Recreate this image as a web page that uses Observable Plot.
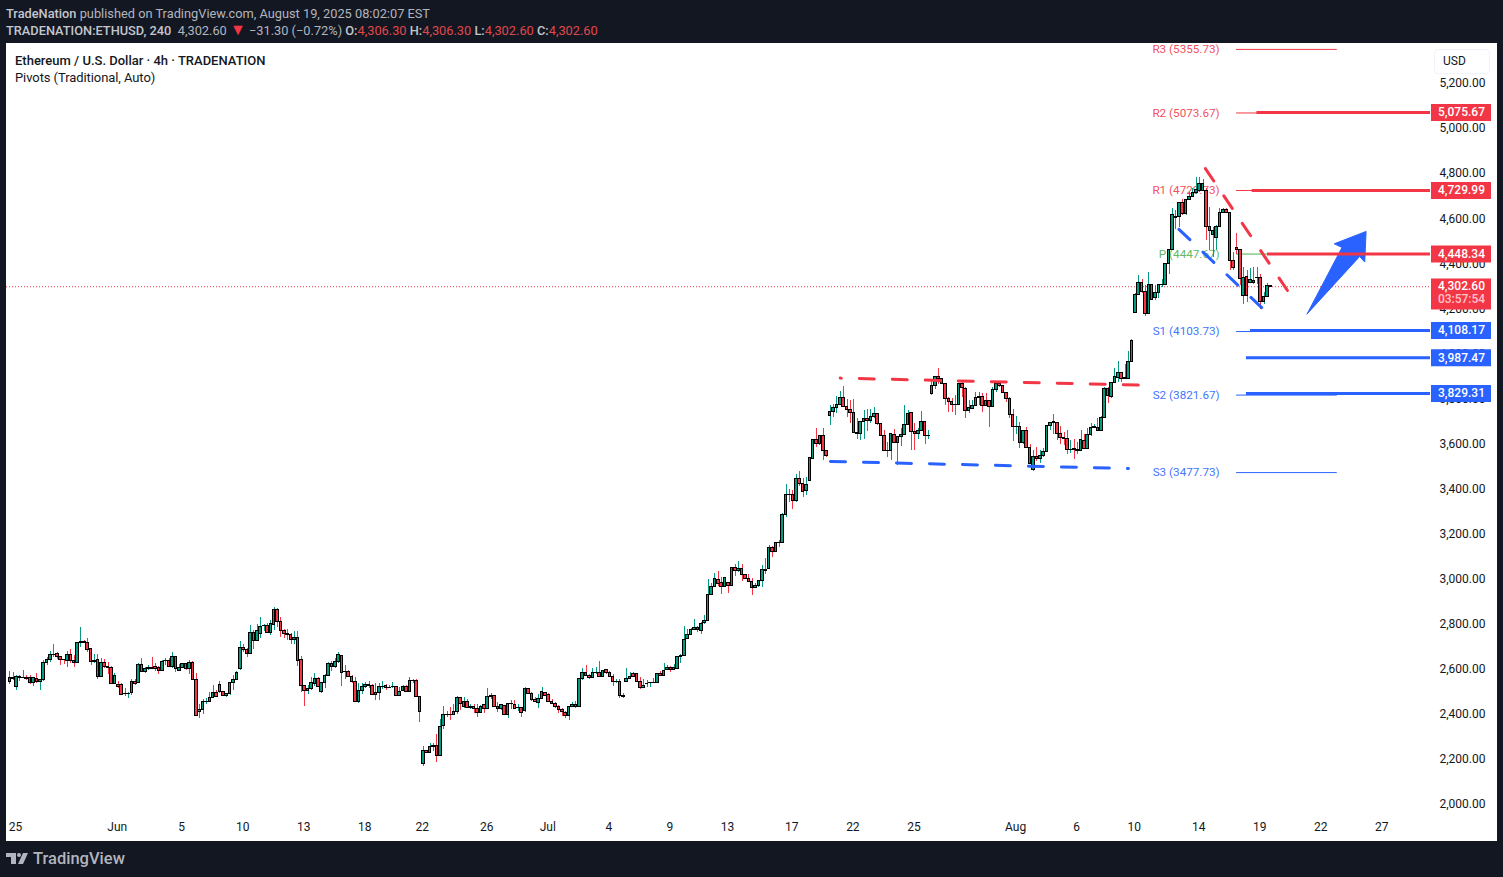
<!DOCTYPE html>
<html>
<head>
<meta charset="utf-8">
<script src="https://cdn.jsdelivr.net/npm/d3@7"></script>
<script src="https://cdn.jsdelivr.net/npm/@observablehq/plot@0.6"></script>
<style>
  html, body { margin: 0; height: 877px; overflow: hidden; background: #131722; font-family: Roboto, sans-serif; }
  #head { position: absolute; left: 6px; top: 5px; font-size: 12.8px; line-height: 17px; color: #b2b5be; white-space: pre; }
  #head b { font-weight: 500; color: #c3c6ce; }
  #head .dn { color: #e0474c; }
  #head .arrow { color: #f23645; font-size: 16px; line-height: 0; }
  #chart { position: absolute; left: 6px; top: 43px; width: 1491px; height: 798px; background: #fff; }
  #title { position: absolute; left: 15px; top: 52px; font-size: 13px; line-height: 17px; color: #131722; }
  #title b { font-weight: 500; }
  #title span { letter-spacing: -0.08px; }
  #usd { position: absolute; left: 1434px; top: 49px; width: 56px; height: 25px; box-sizing: border-box; border: 1px solid #f0f3fa; border-radius: 4px; font-size: 12px; line-height: 23px; padding-left: 8px; background: #fff; color: #131722; }
  #logo { position: absolute; left: 6px; top: 847px; height: 22px; display: flex; align-items: center; color: #b2b5be; font-size: 16.5px; font-weight: 500; }
  #logo svg { margin-right: 5px; }
</style>
</head>
<body>
<div id="head"><b>TradeNation</b> published on TradingView.com, August 19, 2025 08:02:07 EST
<b>TRADENATION:ETHUSD, 240</b>  4,302.60 <span class="arrow">▼</span> −31.30 (−0.72%) <b>O:</b><span class="dn">4,306.30</span> <b>H:</b><span class="dn">4,306.30</span> <b>L:</b><span class="dn">4,302.60</span> <b>C:</b><span class="dn">4,302.60</span></div>
<div id="chart"></div>
<div id="title"><b>Ethereum / U.S. Dollar · 4h · TRADENATION</b><br><span>Pivots (Traditional, Auto)</span></div>
<div id="usd">USD</div>
<div id="logo"><svg width="22" height="11" viewBox="0 0 22 11" fill="#b2b5be"><path d="M0 0h10v11H5V4H0z"/><circle cx="13" cy="2" r="2"/><path d="M17 0h5l-5 11h-5z"/></svg>TradingView</div>
<script>
const opens = [
  2541,2560,2518,2564,2558,2560,2560,2536,2554,2541,
  2550,2626,2640,2663,2666,2652,2640,2634,2662,2635,
  2625,2715,2718,2715,2689,2632,2640,2563,2626,2607,
  2603,2533,2530,2529,2487,2487,2492,2542,2536,2618,
  2585,2601,2603,2609,2606,2589,2634,2635,2607,2653,
  2589,2604,2622,2600,2626,2551,2408,2418,2453,2453,
  2471,2493,2529,2496,2478,2487,2538,2551,2598,2693,
  2684,2666,2760,2723,2755,2791,2791,2760,2795,2862,
  2808,2767,2755,2751,2728,2737,2638,2524,2502,2510,
  2533,2555,2496,2538,2569,2622,2607,2629,2657,2586,
  2588,2564,2542,2452,2504,2518,2529,2524,2483,2493,
  2520,2524,2515,2518,2520,2479,2501,2520,2496,2548,
  2547,2476,2178,2236,2226,2255,2257,2212,2345,2394,
  2397,2395,2407,2472,2429,2453,2427,2431,2422,2404,
  2440,2422,2477,2480,2432,2422,2437,2394,2444,2440,
  2425,2425,2412,2509,2489,2464,2450,2466,2492,2484,
  2453,2444,2431,2418,2404,2391,2431,2440,2431,2555,
  2582,2569,2560,2580,2582,2564,2594,2582,2564,2540,
  2542,2480,2542,2555,2577,2577,2542,2514,2532,2536,
  2536,2537,2576,2568,2595,2604,2595,2601,2653,2656,
  2734,2749,2773,2780,2767,2802,2814,2928,2963,2994,
  2981,2963,2981,2968,3048,3033,3043,3017,2999,2986,
  2957,2966,2989,3039,3043,3136,3118,3159,3159,3283,
  3372,3372,3344,3443,3421,3388,3435,3532,3617,3598,
  3632,3567,3721,3739,3758,3773,3802,3762,3749,3736,
  3647,3643,3696,3709,3700,3718,3731,3685,3634,3567,
  3566,3637,3603,3629,3638,3682,3734,3650,3641,3656,
  3696,3632,3818,3857,3895,3887,3864,3798,3783,3773,
  3773,3864,3842,3745,3752,3767,3802,3805,3787,3789,
  3761,3838,3864,3855,3824,3798,3727,3672,3674,3601,
  3657,3580,3483,3539,3532,3545,3563,3677,3694,3691,
  3642,3625,3620,3571,3576,3572,3567,3611,3576,3637,
  3671,3671,3656,3713,3842,3805,3870,3891,3913,3889,
  3887,3962,4179,4259,4313,4274,4175,4304,4245,4267,
  4302,4304,4395,4459,4601,4604,4668,4619,4681,4693,
  4710,4719,4719,4719,4560,4527,4511,4560,4623,4636,
  4623,4409,4468,4459,4256,4338,4314,4323,4333,4335,
  4227,4252,4306.3
];
const closes = [
  2560,2555,2564,2560,2560,2554,2536,2560,2541,2551,
  2626,2640,2662,2662,2652,2640,2638,2662,2634,2625,
  2715,2718,2715,2683,2629,2637,2563,2626,2607,2603,
  2533,2569,2518,2483,2489,2489,2542,2532,2618,2585,
  2600,2603,2600,2600,2589,2632,2635,2607,2653,2600,
  2604,2622,2600,2626,2551,2391,2418,2453,2455,2471,
  2493,2474,2496,2480,2487,2538,2551,2584,2693,2684,
  2666,2760,2723,2767,2786,2792,2760,2799,2862,2808,
  2767,2755,2751,2728,2737,2635,2524,2502,2511,2538,
  2555,2518,2538,2569,2622,2607,2631,2662,2581,2588,
  2563,2541,2452,2502,2520,2529,2526,2484,2493,2520,
  2521,2514,2517,2520,2479,2498,2520,2496,2547,2547,
  2474,2409,2236,2226,2254,2257,2212,2341,2394,2396,
  2395,2409,2472,2444,2453,2427,2431,2422,2404,2431,
  2422,2477,2480,2431,2422,2440,2394,2444,2443,2422,
  2427,2404,2511,2489,2462,2453,2466,2498,2481,2452,
  2444,2431,2416,2407,2391,2431,2440,2431,2555,2582,
  2570,2560,2582,2582,2564,2589,2582,2564,2542,2542,
  2478,2475,2555,2566,2566,2542,2514,2524,2533,2537,
  2537,2576,2568,2591,2604,2595,2604,2653,2656,2728,
  2749,2773,2780,2771,2799,2814,2928,2963,3000,2977,
  2963,3003,2968,3048,3034,3043,3015,2999,2986,2959,
  2966,2990,3039,3033,3136,3118,3159,3160,3283,3372,
  3373,3344,3443,3421,3384,3416,3536,3617,3598,3632,
  3569,3543,3739,3758,3773,3802,3761,3749,3736,3647,
  3643,3696,3709,3700,3718,3731,3685,3634,3567,3566,
  3642,3603,3629,3638,3682,3731,3650,3641,3656,3696,
  3634,3634,3857,3895,3887,3864,3798,3783,3773,3771,
  3864,3847,3745,3758,3767,3801,3805,3767,3767,3761,
  3838,3864,3855,3826,3798,3727,3672,3674,3601,3657,
  3580,3509,3539,3532,3545,3563,3680,3691,3691,3642,
  3625,3620,3572,3573,3572,3567,3616,3576,3638,3669,
  3672,3656,3713,3842,3810,3870,3895,3913,3888,3885,
  3962,4055,4259,4313,4271,4175,4304,4237,4267,4304,
  4305,4397,4459,4614,4604,4668,4619,4681,4693,4710,
  4725,4752,4752,4560,4542,4542,4562,4623,4636,4623,
  4409,4378,4459,4330,4335,4256,4327,4311,4335,4227,
  4252,4299,4302.6
];
const highs = [
  2589,2585,2570,2570,2592,2570,2570,2560,2578,2551,
  2637,2652,2677,2708,2674,2652,2640,2677,2684,2659,
  2718,2782,2728,2737,2689,2666,2662,2644,2640,2629,
  2610,2578,2544,2533,2511,2496,2551,2551,2625,2644,
  2607,2615,2652,2622,2612,2637,2644,2644,2674,2655,
  2619,2625,2626,2637,2632,2578,2442,2462,2467,2496,
  2526,2504,2544,2501,2489,2541,2570,2589,2721,2708,
  2691,2792,2770,2799,2826,2799,2802,2814,2873,2870,
  2826,2777,2777,2755,2765,2765,2655,2524,2526,2560,
  2578,2563,2541,2575,2629,2634,2644,2674,2659,2615,
  2592,2570,2560,2536,2533,2541,2544,2530,2533,2533,
  2544,2530,2526,2539,2521,2518,2526,2526,2560,2551,
  2552,2477,2255,2240,2267,2267,2307,2374,2433,2410,
  2427,2441,2477,2474,2474,2462,2444,2444,2441,2437,
  2444,2515,2489,2481,2452,2444,2437,2447,2459,2459,
  2444,2429,2518,2511,2496,2474,2486,2517,2495,2489,
  2462,2452,2437,2425,2412,2434,2449,2455,2555,2600,
  2613,2577,2600,2607,2631,2592,2595,2588,2573,2551,
  2551,2489,2601,2585,2582,2580,2563,2552,2548,2537,
  2557,2580,2589,2623,2614,2610,2619,2654,2666,2787,
  2777,2781,2818,2787,2807,2836,2997,2977,3024,3031,
  3006,3006,2981,3051,3063,3077,3063,3021,3018,3002,
  2977,2992,3058,3091,3147,3143,3162,3172,3288,3418,
  3396,3391,3462,3476,3443,3450,3536,3620,3669,3632,
  3665,3569,3768,3773,3808,3830,3852,3795,3790,3795,
  3709,3699,3746,3753,3753,3758,3731,3687,3657,3606,
  3645,3662,3631,3669,3768,3746,3736,3687,3665,3742,
  3699,3657,3879,3897,3932,3889,3867,3805,3798,3813,
  3867,3879,3847,3793,3790,3827,3827,3820,3820,3790,
  3847,3872,3872,3857,3827,3805,3749,3719,3694,3660,
  3672,3598,3569,3583,3569,3576,3682,3694,3731,3694,
  3675,3650,3657,3613,3620,3606,3657,3640,3665,3687,
  3684,3709,3719,3847,3850,3872,3935,3963,3916,3953,
  4008,4061,4264,4345,4330,4301,4360,4308,4301,4308,
  4330,4400,4463,4641,4633,4670,4685,4685,4715,4730,
  4781,4781,4774,4730,4648,4557,4567,4645,4641,4641,
  4626,4449,4530,4462,4382,4367,4375,4382,4382,4352,
  4271,4311,4306.3
];
const lows = [
  2530,2548,2504,2544,2557,2548,2530,2521,2536,2504,
  2544,2615,2629,2652,2640,2615,2619,2607,2622,2607,
  2622,2696,2711,2674,2615,2622,2554,2560,2600,2575,
  2530,2530,2515,2481,2477,2470,2481,2526,2533,2585,
  2581,2595,2600,2589,2575,2588,2615,2604,2603,2585,
  2589,2600,2592,2575,2548,2391,2381,2397,2442,2450,
  2467,2471,2493,2477,2474,2484,2504,2548,2595,2674,
  2652,2663,2686,2723,2733,2767,2758,2748,2770,2782,
  2740,2733,2725,2708,2708,2612,2495,2434,2486,2504,
  2521,2518,2492,2511,2566,2589,2600,2626,2521,2555,
  2560,2533,2452,2445,2486,2515,2511,2483,2459,2459,
  2507,2504,2511,2511,2477,2477,2499,2495,2495,2536,
  2473,2362,2168,2223,2223,2234,2184,2211,2329,2385,
  2370,2392,2397,2415,2426,2425,2422,2403,2385,2403,
  2403,2422,2466,2429,2407,2415,2392,2381,2422,2419,
  2412,2385,2407,2486,2456,2449,2425,2464,2477,2449,
  2441,2426,2400,2390,2381,2370,2429,2425,2429,2548,
  2566,2554,2558,2577,2563,2563,2577,2560,2523,2536,
  2469,2469,2539,2551,2563,2540,2508,2512,2518,2517,
  2533,2536,2567,2567,2594,2583,2594,2601,2622,2654,
  2733,2748,2770,2762,2752,2799,2814,2925,2962,2966,
  2929,2962,2934,2966,3011,3026,2989,2996,2984,2925,
  2955,2962,2962,3021,3040,3093,3116,3140,3158,3273,
  3340,3307,3338,3409,3362,3369,3432,3529,3583,3591,
  3527,3539,3680,3714,3734,3768,3758,3716,3687,3645,
  3617,3613,3620,3653,3687,3713,3682,3632,3566,3539,
  3524,3601,3502,3586,3635,3680,3569,3569,3620,3653,
  3595,3617,3813,3838,3864,3861,3768,3739,3739,3724,
  3768,3805,3712,3734,3749,3764,3768,3739,3764,3672,
  3758,3827,3850,3823,3783,3713,3610,3642,3580,3598,
  3580,3506,3477,3521,3512,3539,3561,3657,3642,3613,
  3595,3591,3551,3554,3529,3551,3566,3574,3574,3631,
  3665,3653,3653,3712,3776,3798,3867,3872,3872,3884,
  3884,3959,4178,4256,4264,4165,4172,4234,4234,4242,
  4293,4301,4352,4456,4552,4560,4611,4614,4678,4690,
  4707,4715,4719,4500,4456,4426,4456,4557,4619,4619,
  4367,4367,4441,4301,4219,4227,4311,4308,4308,4193,
  4219,4249,4302.6
];
// candles above were read against the tick text, which sits about 1.5px over the true grid
const readShift = 6.6;

const yTicks = [2000,2200,2400,2600,2800,3000,3200,3400,3600,3800,4000,4200,4400,4600,4800,5000,5200];
const tickBars = [3,33,52,70,88,106,123,142,160,178,196,213,232,250,268,298,316,333,352,370,388,406];
const tickLabels = ["25","Jun","5","10","13","18","22","26","Jul","4","9","13","17","22","25","Aug","6","10","14","19","22","27"];

const pivotNames = ["R3","R2","R1","P","S1","S2","S3"];
const pivotValues = [5355.73,5073.67,4729.73,4447.67,4103.73,3821.67,3477.73];

const levelValues = [5075.67,4729.99,4448.34,4108.17,3987.47,3829.31];
const levelStartBars = [368.9,367.5,372,367,365.8,365.8];

const lastPrice = 4302.6;

const flatTopBars = [246,333.9], flatTopPrices = [3897,3866];
const flatBottomBars = [243.1,331], flatBottomPrices = [3527,3496];
const wedgeTopBars = [353.7,377.9], wedgeTopPrices = [4827,4286];
const wedgeBottomBars = [345.9,370.3], wedgeBottomPrices = [4557,4210];

const arrowBars = [383.7,394,391.7,401.1,400.7,399.2,383.7];
const arrowPrices = [4182,4477,4493,4548,4412,4437,4182];

const RED = "#f23645", GREEN = "#089981", BLUE = "#2962ff", PIVOT_GREEN = "#4caf50";

const bars = opens.map((o, i) => {
  const s = i < opens.length - 1 ? readShift : 0;
  return { n: i + 1, open: o + s, close: closes[i] + s, high: highs[i] + s, low: lows[i] + s };
});
const pivots = pivotNames.map((name, i) => ({ name, value: pivotValues[i] }));
const levels = levelValues.map((value, i) => ({ value, start: levelStartBars[i] }));
const toPoints = (xs, ys) => xs.map((x, i) => ({ x, y: ys[i] }));
const pivotColor = d => d.name[0] === "R" ? RED : d.name[0] === "P" ? PIVOT_GREEN : BLUE;
const levelColor = d => d.value > lastPrice ? RED : BLUE;
const money = d3.format(",.2f");

const dashed = (xs, ys, stroke, offset) => Plot.line(toPoints(xs, ys), {
  x: "x", y: "y", stroke, strokeWidth: 3, strokeDasharray: "15 18", strokeDashoffset: offset
});

const chart = Plot.plot({
  width: 1491,
  height: 798,
  marginLeft: 0,
  marginTop: 0,
  marginRight: 67,
  marginBottom: 26,
  style: { background: "#fff", fontFamily: "Roboto, sans-serif", fontSize: "12px", color: "#131722", overflow: "visible" },
  x: { domain: [0.03, 420.1], label: null },
  y: { domain: [1956, 5382], label: null },
  marks: [
    Plot.axisY(yTicks, { anchor: "right", tickSize: 0, tickPadding: 9, dy: -1, tickFormat: money, fontSize: 12, label: null }),
    Plot.axisX(tickBars, { anchor: "bottom", tickSize: 0, tickPadding: 7, dx: -1, tickFormat: d => tickLabels[tickBars.indexOf(d)], fontSize: 12, label: null }),

    // pivots sit under the candles
    Plot.ruleY(pivots, { y: "value", x1: 362.9, x2: 392.6, stroke: pivotColor, strokeWidth: 1 }),
    Plot.text(pivots, { x: 357.9, y: "value", text: d => `${d.name} (${d.value.toFixed(2)})`, textAnchor: "end", fill: pivotColor, fillOpacity: 0.9, fontSize: 11.7 }),
    Plot.ruleY([lastPrice], { stroke: RED, strokeWidth: 1, strokeDasharray: "1 2" }),

    // candles
    Plot.ruleX(bars, { x: "n", y1: "low", y2: "high", stroke: d => d.close >= d.open ? GREEN : RED, strokeWidth: 1, shapeRendering: "crispEdges" }),
    Plot.rectY(bars, {
      x1: d => d.n - 0.38, x2: d => d.n + 0.38, y1: "open", y2: "close",
      fill: d => d.close >= d.open ? GREEN : RED, stroke: "#000", strokeWidth: 1, shapeRendering: "crispEdges"
    }),

    // drawings
    dashed(flatTopBars, flatTopPrices, RED, 14),
    dashed(flatBottomBars, flatBottomPrices, BLUE, 0),
    dashed(wedgeTopBars, wedgeTopPrices, RED, 0),
    dashed(wedgeBottomBars, wedgeBottomPrices, BLUE, 0),
    Plot.line(toPoints(arrowBars, arrowPrices), { x: "x", y: "y", fill: BLUE, stroke: BLUE, strokeWidth: 1 }),
    Plot.ruleY(levels, { y: "value", x1: "start", x2: 420.1, stroke: levelColor, strokeWidth: 3 }),

    // price scale labels
    Plot.ruleY(levels, { y: "value", stroke: levelColor, strokeWidth: 17, insetLeft: 1425, insetRight: -61 }),
    Plot.ruleY([4270], { stroke: RED, strokeWidth: 31, insetLeft: 1425, insetRight: -61 }),
    Plot.text(levels, { y: "value", text: d => money(d.value), frameAnchor: "right", textAnchor: "middle", dx: 31, fill: "#fff", fontSize: 12, fontWeight: 500 }),
    Plot.text([4305.5], { y: d => d, text: () => money(lastPrice), frameAnchor: "right", textAnchor: "middle", dx: 31, fill: "#fff", fontSize: 12, fontWeight: 500 }),
    Plot.text([4245.6], { y: d => d, text: () => "03:57:54", frameAnchor: "right", textAnchor: "middle", dx: 31, fill: "#ffc4c9", fontSize: 12, fontWeight: 500 })
  ]
});

document.getElementById("chart").append(chart);
</script>
</body>
</html>
